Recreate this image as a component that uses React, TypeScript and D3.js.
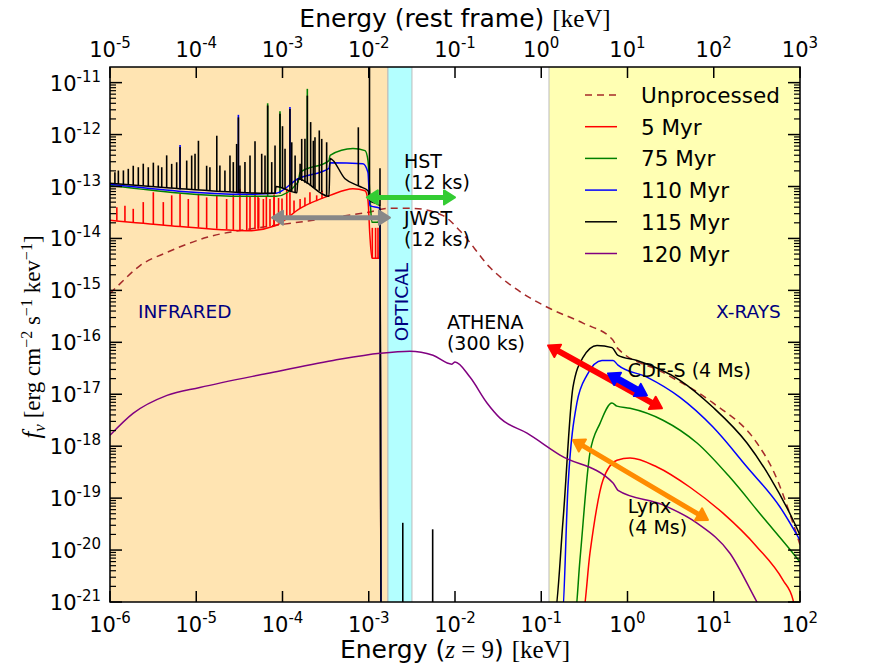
import React from "react";
import * as d3 from "d3";

type Pt = [number, number];

const width = 889;
const height = 667;
const margin = { top: 67, right: 89, bottom: 65, left: 110 };

// axes (observed keV, flux)
const xDomain: [number, number] = [1e-6, 1e2];
const yDomain: [number, number] = [1e-21, 2e-11];
const xTickExps = [-6, -5, -4, -3, -2, -1, 0, 1, 2];
const topTickExps = [-5, -4, -3, -2, -1, 0, 1, 2, 3]; // rest frame, (1+z) = 10
const yTickExps = [-21, -20, -19, -18, -17, -16, -15, -14, -13, -12, -11];

// shaded bands
const bandStart = [1e-6, 1.67e-3, 0.123];
const bandEnd = [1.67e-3, 3.17e-3, 1e2];
const bandColors = ["#ffe4b2", "#b3ffff", "#ffffb3"];

const regionLabels = ["INFRARED", "OPTICAL", "X-RAYS"];
const regionLabelAt: Pt[] = [[2.11e-6, 3.0e-16], [2.85e-3, 1.05e-16], [60, 3.0e-16]];

// spectra
const legendLabels = ["Unprocessed", "5 Myr", "75 Myr", "110 Myr", "115 Myr", "120 Myr"];
const seriesColors = ["#a52a2a", "#ff0000", "#008000", "#0000ff", "#000000", "#800080"];

const unprocessed: Pt[] = [
  [1e-6, 8.7e-16], [1.31e-6, 1.35e-15], [2.23e-6, 3.0e-15], [4.58e-6, 5.4e-15],
  [1.33e-5, 1.05e-14], [5.5e-5, 1.62e-14], [2.26e-4, 2.24e-14], [9.5e-4, 3.16e-14],
  [1.76e-3, 3.8e-14], [3.17e-3, 3.8e-14], [7.26e-3, 2.75e-14], [1.14e-2, 1.41e-14],
  [2.55e-2, 2.75e-15], [6.14e-2, 8.7e-16], [0.126, 4.47e-16], [0.305, 2.34e-16],
  [0.68, 1.1e-16], [0.755, 7.9e-17], [2.58, 2.63e-17], [9.8, 6.8e-18],
  [31.7, 1.15e-18], [48.6, 3.47e-19], [83, 3.3e-20], [100, 1.26e-20],
];

const myr5: Pt[] = [
  [1e-6, 2.24e-14], [4.58e-6, 1.78e-14], [3.87e-5, 1.41e-14], [8.4e-5, 1.78e-14],
  [1.6e-4, 3.8e-14], [3.56e-4, 6.76e-14], [6.56e-4, 9.1e-14], [9.06e-4, 8.3e-14],
  [9.8e-4, 5.37e-14], [1.03e-3, 1.15e-14], [1.09e-3, 4.17e-15], [1.32e-3, 4.17e-15],
  [1.35e-3, 9.1e-15], [1.39e-3, 1e-22],
  [0.30, 5e-22], [0.367, 8.7e-21], [0.52, 2.24e-19], [0.755, 5.37e-19], [1.07, 5.9e-19],
  [2.2, 3.98e-19], [5.3, 1.62e-19], [12.8, 5.13e-20], [31.7, 1.15e-20], [63.5, 2.63e-21],
  [83, 1.1e-21], [90, 5e-22],
];

const myr75: Pt[] = [
  [1e-6, 1.05e-13], [3.87e-5, 6.46e-14], [8.4e-5, 6.46e-14], [1.51e-4, 1.2e-13],
  [1.6e-4, 1.86e-13], [3.46e-4, 3.16e-13], [3.56e-4, 3.98e-13], [6.56e-4, 5.37e-13],
  [9.06e-4, 4.9e-13], [9.8e-4, 3.16e-13], [1.03e-3, 6.76e-14], [1.09e-3, 2.04e-14],
  [1.28e-3, 2.04e-14], [1.35e-3, 2.75e-14], [1.39e-3, 1e-22],
  [0.245, 5e-22], [0.281, 6.46e-21], [0.367, 7.4e-19], [0.48, 2.75e-18], [0.66, 6.8e-18],
  [0.755, 5.9e-18], [1.07, 5.37e-18], [2.58, 3.16e-18], [6.4, 1.15e-18], [15.4, 2.51e-19],
  [37.2, 4.27e-20], [83, 8.7e-21], [100, 5.9e-21],
];

const myr110: Pt[] = [
  [1e-6, 1.1e-13], [3.87e-5, 7.1e-14], [8.4e-5, 7.4e-14], [1.51e-4, 1.41e-13],
  [3.46e-4, 2.24e-13], [3.56e-4, 2.88e-13], [8.57e-4, 2.75e-13], [9.8e-4, 1.86e-13],
  [1.03e-3, 4.27e-14], [1.35e-3, 3.8e-14], [1.39e-3, 1e-22],
  [0.175, 5e-22], [0.204, 1.62e-19], [0.259, 6.8e-18], [0.339, 2.34e-17], [0.506, 4.47e-17],
  [0.68, 4.47e-17], [0.776, 3.63e-17], [1.68, 2.14e-17], [4.06, 8.7e-18], [9.8, 2.34e-18],
  [24.3, 3.98e-19], [58.6, 6.76e-20], [100, 1.55e-20],
];

const myr115: Pt[] = [
  [1e-6, 1.15e-13], [4.58e-6, 9.5e-14], [3.87e-5, 7.6e-14], [8.2e-5, 7.4e-14],
  [8.4e-5, 1.0e-13], [1.47e-4, 7.6e-14], [1.51e-4, 1.41e-13], [3.46e-4, 6.46e-14],
  [3.56e-4, 3.47e-13], [5.31e-4, 1.41e-13], [7.9e-4, 1.0e-13], [9.8e-4, 8.3e-14],
  [1.03e-3, 5.37e-14], [1.35e-3, 4.27e-14], [1.39e-3, 1e-22],
  [0.142, 5e-22], [0.179, 3.8e-20], [0.233, 1.35e-17], [0.305, 5.13e-17], [0.443, 8.7e-17],
  [0.66, 7.9e-17], [0.776, 5.62e-17], [1.29, 4.47e-17], [4.06, 1.86e-17], [9.8, 5.62e-18],
  [24.3, 1.15e-18], [44.9, 2.51e-19], [83, 3.8e-20], [100, 1.95e-20],
];

const myr120: Pt[] = [
  [1e-6, 1.62e-18], [1.85e-6, 4.27e-18], [4.58e-6, 9.5e-18], [1.1e-5, 1.35e-17],
  [6.6e-5, 2.51e-17], [3.86e-4, 4.47e-17], [1.35e-3, 6.17e-17], [3.0e-3, 6.76e-17],
  [5.56e-3, 5.62e-17], [9.2e-3, 3.8e-17], [1.0e-2, 4.17e-17], [1.49e-2, 2.14e-17],
  [2.35e-2, 6.8e-18], [3.33e-2, 3.47e-18], [6.84e-2, 1.78e-18], [0.165, 6.76e-19],
  [0.68, 1.95e-19], [0.776, 1.41e-19], [2.58, 7.4e-20], [6.4, 3.3e-20], [15.4, 8.7e-21],
  [31.7, 1e-21], [40, 5e-22],
];

// emission lines: [energy, peak flux]
const myr5Lines: Pt[] = [
  [1.2e-6, 3.98e-14], [1.49e-6, 4.27e-14], [1.86e-6, 3.72e-14], [2.43e-6, 5.01e-14],
  [3.18e-6, 7.76e-14], [4.15e-6, 5.01e-14], [5.19e-6, 6.76e-14], [6.49e-6, 7.24e-14],
  [8.09e-6, 5.75e-14], [1.06e-5, 7.24e-14], [1.32e-5, 6.17e-14], [1.73e-5, 6.76e-14],
  [2.25e-5, 5.75e-14], [2.69e-5, 7.24e-14], [3.21e-5, 9.1e-14], [3.85e-5, 6.76e-14],
  [4.2e-5, 6.3e-14], [4.8e-5, 7.76e-14], [5.2e-5, 6.43e-14], [5.3e-5, 6.0e-14],
  [6.0e-5, 5.75e-14], [6.5e-5, 6.5e-14], [7.16e-5, 5.75e-14], [7.97e-5, 6.71e-14],
  [8.0e-5, 7.0e-14], [9.0e-5, 6.0e-14], [9.87e-5, 5.87e-14], [1.12e-4, 9.1e-14],
  [1.22e-4, 7.76e-14], [1.36e-4, 5.38e-14], [1.6e-4, 5.75e-14], [1.82e-4, 6.14e-14],
  [2.08e-4, 7.76e-14], [2.49e-4, 6.76e-14], [2.87e-4, 8.38e-14],
  [1.1e-3, 1.6e-14], [1.2e-3, 1.6e-14], [1.28e-3, 1.6e-14],
];

const myr75Lines: Pt[] = [[6.73e-5, 4.0e-12], [9.35e-5, 2.8e-12], [1.94e-4, 7.6e-12]];
const myr110Lines: Pt[] = [[6.49e-6, 6.3e-13], [3.08e-5, 2.4e-12], [1.22e-4, 3.4e-12]];

const myr115Lines: Pt[] = [
  [1.14e-6, 1.88e-13], [1.25e-6, 2.03e-13], [1.43e-6, 2.04e-13], [1.63e-6, 2.19e-13],
  [1.86e-6, 2.51e-13], [2.13e-6, 2.35e-13], [2.43e-6, 2.75e-13], [2.78e-6, 2.35e-13],
  [3.18e-6, 2.88e-13], [3.63e-6, 2.54e-13], [3.98e-6, 2.35e-13], [4.54e-6, 3.98e-13],
  [5.19e-6, 2.73e-13], [5.93e-6, 2.93e-13], [6.49e-6, 5.75e-13], [7.75e-6, 3.16e-13],
  [8.85e-6, 3.95e-13], [9.68e-6, 4.26e-13], [1.06e-5, 7.6e-13], [1.32e-5, 2.51e-13],
  [1.44e-5, 2.35e-13], [1.73e-5, 9.5e-13], [1.88e-5, 2.54e-13], [2.15e-5, 2.04e-13],
  [2.46e-5, 3.95e-13], [2.69e-5, 2.95e-13], [2.94e-5, 6.6e-13], [3.08e-5, 2.14e-12],
  [3.21e-5, 2.54e-13], [3.67e-5, 2.95e-13], [4.2e-5, 3.95e-13], [4.8e-5, 7.4e-13],
  [5.74e-5, 4.27e-13], [6.27e-5, 3.95e-13], [6.73e-5, 3.63e-12], [7.5e-5, 2.95e-13],
  [8.19e-5, 6.14e-13], [9.35e-5, 2.51e-12], [1.0e-4, 1.45e-12], [1.07e-4, 5.31e-13],
  [1.22e-4, 3.09e-12], [1.28e-4, 7.1e-13], [1.4e-4, 3.95e-13], [1.6e-4, 2.75e-13],
  [1.67e-4, 8.26e-13], [1.82e-4, 8.3e-13], [1.94e-4, 5.62e-12], [2.12e-4, 1.74e-12],
  [2.28e-4, 7.6e-13], [2.38e-4, 8.87e-13], [2.67e-4, 1.2e-12], [2.85e-4, 8.26e-13],
  [3.25e-4, 7.11e-13], [7.57e-4, 1.38e-12], [1.02e-3, 2.5e-11], [1.35e-3, 2.24e-13],
  [2.48e-3, 3.35e-20], [5.51e-3, 2.51e-20],
];

const seriesData = [unprocessed, myr5, myr75, myr110, myr115, myr120];
const seriesLines: (Pt[] | null)[] = [null, myr5Lines, myr75Lines, myr110Lines, myr115Lines, null];

// sensitivity arrows: energy range and flux at each tip
const instruments = ["HST", "JWST", "ATHENA", "CDF-S", "Lynx"];
const instFrom: Pt[] = [[9.5e-4, 6.17e-14], [7.55e-5, 2.51e-14], [0.12, 8.7e-17], [0.594, 2.51e-17], [0.233, 1.32e-18]];
const instTo: Pt[] = [[1e-2, 6.17e-14], [1.76e-3, 2.51e-14], [2.51, 5.37e-18], [1.68, 9.5e-18], [8.57, 3.8e-20]];
const instText = [["HST", "(12 ks)"], ["JWST", "(12 ks)"], ["ATHENA", "(300 ks)"], ["CDF-S (4 Ms)"], ["Lynx", "(4 Ms)"]];
const instTextAt: Pt[] = [[2.56e-3, 2.3e-13], [2.56e-3, 1.78e-14], [8.07e-3, 1.78e-16], [1.01, 2.14e-17], [1.01, 5.1e-20]];
const arrowColors = ["#33cc33", "#888888", "#ff0000", "#0000ff", "#ff8c00"];
const arrowWidths = [5, 5, 6, 7, 5];

function logInterp(s: Pt[], e: number) {
  const i = d3.bisector((d: Pt) => d[0]).left(s, e);
  if (i <= 0) return s[0][1];
  if (i >= s.length) return s[s.length - 1][1];
  const [e0, f0] = s[i - 1];
  const [e1, f1] = s[i];
  const t = (Math.log(e) - Math.log(e0)) / (Math.log(e1) - Math.log(e0));
  return Math.exp(Math.log(f0) + t * (Math.log(f1) - Math.log(f0)));
}

const sans = "DejaVu Sans, sans-serif";
const serif = "Liberation Serif, DejaVu Serif, serif";

export default function App() {
  const x = d3.scaleLog().domain(xDomain).range([margin.left, width - margin.right]);
  const y = d3.scaleLog().domain(yDomain).range([height - margin.bottom, margin.top]);
  const x0 = margin.left, x1 = width - margin.right;
  const y0 = height - margin.bottom, y1 = margin.top;

  const line = d3.line<Pt>().x((d) => x(d[0])).y((d) => y(d[1])).curve(d3.curveMonotoneX);

  // minor y ticks
  const yMinor: number[] = [];
  for (let e = -21; e < -11; e++) for (let k = 2; k <= 9; k++) yMinor.push(k * Math.pow(10, e));

  const arrow = (i: number) => {
    const ax = x(instFrom[i][0]), ay = y(instFrom[i][1]);
    const bx = x(instTo[i][0]), by = y(instTo[i][1]);
    const len = Math.hypot(bx - ax, by - ay);
    const ux = (bx - ax) / len, uy = (by - ay) / len;
    const hl = 11, hw = 7;
    const head = (tx: number, ty: number, dx: number, dy: number) => {
      const bxh = tx - dx * hl, byh = ty - dy * hl;
      return `M${tx},${ty}L${bxh - dy * hw},${byh + dx * hw}L${bxh + dy * hw},${byh - dx * hw}Z`;
    };
    return (
      <g key={instruments[i]}>
        <line x1={ax + ux * hl * 0.8} y1={ay + uy * hl * 0.8} x2={bx - ux * hl * 0.8} y2={by - uy * hl * 0.8}
          stroke={arrowColors[i]} strokeWidth={arrowWidths[i]} />
        <path d={head(ax, ay, -ux, -uy)} fill={arrowColors[i]} stroke={arrowColors[i]} strokeLinejoin="round" strokeWidth={2} />
        <path d={head(bx, by, ux, uy)} fill={arrowColors[i]} stroke={arrowColors[i]} strokeLinejoin="round" strokeWidth={2} />
      </g>
    );
  };

  const pow = (px: number, py: number, exp: number, anchor: string, key: string) => (
    <text key={key} x={px} y={py} textAnchor={anchor} fontFamily={sans} fontSize={21}>
      <tspan>10</tspan>
      <tspan dy={-9} fontSize={15}>{exp}</tspan>
    </text>
  );

  return (
    <svg width={width} height={height} style={{ position: "absolute", left: 0, top: 0, background: "#fff" }}>
      <defs>
        <clipPath id="plot">
          <rect x={x0} y={y1} width={x1 - x0} height={y0 - y1} />
        </clipPath>
      </defs>
      <rect width={width} height={height} fill="#fff" />

      {/* bands */}
      {bandStart.map((b, i) => (
        <g key={"band" + i}>
          <rect x={x(b)} y={y1} width={x(bandEnd[i]) - x(b)} height={y0 - y1} fill={bandColors[i]} />
          <line x1={x(b)} x2={x(b)} y1={y1} y2={y0} stroke="#bbbbbb" strokeWidth={1} />
          <line x1={x(bandEnd[i])} x2={x(bandEnd[i])} y1={y1} y2={y0} stroke="#bbbbbb" strokeWidth={1} />
        </g>
      ))}

      <g clipPath="url(#plot)">
        {seriesData.map((s, i) => (
          <g key={legendLabels[i]}>
            <path d={line(s) || ""} fill="none" stroke={seriesColors[i]} strokeWidth={1.5}
              strokeDasharray={i === 0 ? "7,5" : undefined} strokeLinejoin="round" />
            {seriesLines[i] && seriesLines[i]!.map((l, j) => (
              <line key={j} x1={x(l[0])} x2={x(l[0])} y1={y(logInterp(s, l[0]))} y2={y(l[1])}
                stroke={seriesColors[i]} strokeWidth={1.6} />
            ))}
          </g>
        ))}
        {instruments.map((_, i) => arrow(i))}
      </g>

      {/* region labels */}
      <text x={x(regionLabelAt[0][0])} y={y(regionLabelAt[0][1])} fill="#000080" fontFamily={sans} fontSize={18.5}>{regionLabels[0]}</text>
      <text transform={`translate(${x(regionLabelAt[1][0])},${y(regionLabelAt[1][1])}) rotate(-90)`} fill="#000080" fontFamily={sans} fontSize={18.5}>{regionLabels[1]}</text>
      <text x={x(regionLabelAt[2][0])} y={y(regionLabelAt[2][1])} textAnchor="end" fill="#000080" fontFamily={sans} fontSize={18.5}>{regionLabels[2]}</text>

      {/* instrument labels */}
      {instText.map((t, i) => (
        <text key={"it" + i} x={x(instTextAt[i][0])} y={y(instTextAt[i][1])} fontFamily={sans} fontSize={19}>
          {t.map((s, j) => (
            <tspan key={j} x={x(instTextAt[i][0])} dy={j === 0 ? 0 : 21}>{s}</tspan>
          ))}
        </text>
      ))}

      {/* legend */}
      {legendLabels.map((l, i) => (
        <g key={"lg" + i} transform={`translate(585,${95 + i * 31.7})`}>
          <line x1={0} x2={32} stroke={seriesColors[i]} strokeWidth={1.5} strokeDasharray={i === 0 ? "7,5" : undefined} />
          <text x={56} y={8} fontFamily={sans} fontSize={21.5}>{l}</text>
        </g>
      ))}

      {/* frame */}
      <rect x={x0} y={y1} width={x1 - x0} height={y0 - y1} fill="none" stroke="#000" strokeWidth={1.5} />

      {/* x ticks (bottom & top) */}
      {xTickExps.map((e, i) => {
        const px = x(Math.pow(10, e));
        return (
          <g key={"xt" + e}>
            <line x1={px} x2={px} y1={y0} y2={y0 - 11} stroke="#000" strokeWidth={1.5} />
            <line x1={px} x2={px} y1={y1} y2={y1 + 11} stroke="#000" strokeWidth={1.5} />
            {pow(px, 632, e, "middle", "xb" + e)}
            {pow(px, 57, topTickExps[i], "middle", "xt" + e)}
          </g>
        );
      })}

      {/* y ticks */}
      {yTickExps.map((e) => {
        const py = y(Math.pow(10, e));
        return (
          <g key={"yt" + e}>
            <line x1={x0} x2={x0 + 12} y1={py} y2={py} stroke="#000" strokeWidth={1.5} />
            <line x1={x1} x2={x1 - 12} y1={py} y2={py} stroke="#000" strokeWidth={1.5} />
            {pow(101, py + 8, e, "end", "yl" + e)}
          </g>
        );
      })}
      {yMinor.map((v, i) => {
        const py = y(v);
        return (
          <g key={"ym" + i}>
            <line x1={x0} x2={x0 + 6} y1={py} y2={py} stroke="#000" strokeWidth={1.2} />
            <line x1={x1} x2={x1 - 6} y1={py} y2={py} stroke="#000" strokeWidth={1.2} />
          </g>
        );
      })}

      {/* axis titles */}
      <text x={(x0 + x1) / 2} y={658} textAnchor="middle" fontFamily={sans} fontSize={25}>
        <tspan>Energy (</tspan>
        <tspan fontFamily={serif} fontStyle="italic">z</tspan>
        <tspan fontFamily={serif}>{" = 9"}</tspan>
        <tspan>{") "}</tspan>
        <tspan fontFamily={serif}>[keV]</tspan>
      </text>
      <text x={(x0 + x1) / 2} y={27} textAnchor="middle" fontFamily={sans} fontSize={25}>
        <tspan>{"Energy (rest frame) "}</tspan>
        <tspan fontFamily={serif}>[keV]</tspan>
      </text>
      <text transform="translate(40,337) rotate(-90)" textAnchor="middle" fontFamily={serif} fontSize={23}>
        <tspan fontStyle="italic" fontSize={25}>f</tspan>
        <tspan fontStyle="italic" fontSize={17} dy={5}>ν</tspan>
        <tspan dy={-5}>{" [erg cm"}</tspan>
        <tspan fontSize={16} dy={-8}>−2</tspan>
        <tspan dy={8}>{" s"}</tspan>
        <tspan fontSize={16} dy={-8}>−1</tspan>
        <tspan dy={8}>{" kev"}</tspan>
        <tspan fontSize={16} dy={-8}>−1</tspan>
        <tspan dy={8}>]</tspan>
      </text>
    </svg>
  );
}
